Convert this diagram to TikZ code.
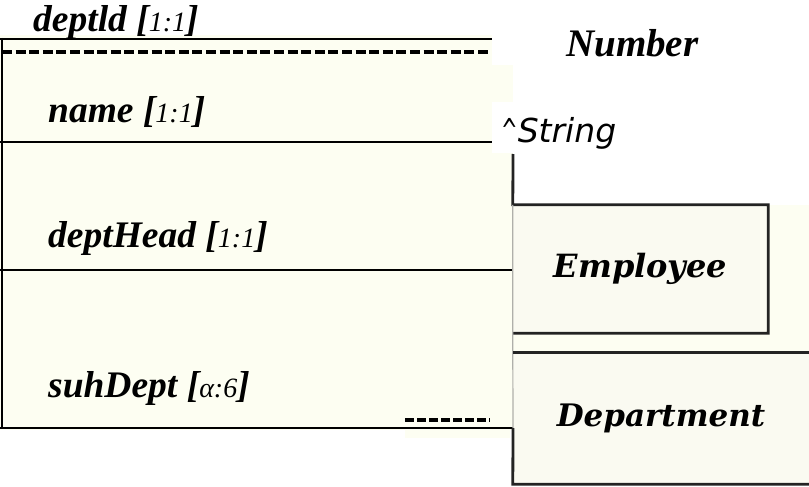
\documentclass[tikz,border=0pt]{standalone}
\usepackage{fontspec}
\setmainfont{Liberation Serif}
\newfontfamily\strfont{DejaVu Sans}
\newfontfamily\boxfont{DejaVu Serif}
\definecolor{cream}{RGB}{253,254,242}
\definecolor{paper}{RGB}{250,250,241}
\definecolor{edge}{RGB}{35,35,35}
\definecolor{faint}{RGB}{175,175,170}
% cardinality part of an attribute label, set lighter and smaller
\newcommand\mult[1]{{\mdseries\fontsize{28}{30}\selectfont #1}}
\begin{document}
\begin{tikzpicture}[x=1pt,y=-1pt,
  rule/.style={line width=2.8pt, black},
  dashrule/.style={line width=4pt, black, dash pattern=on 10pt off 3.6pt},
  attr/.style={anchor=base west, inner sep=0pt,
    font=\fontsize{37.5}{40}\selectfont\bfseries\itshape},
  typelabel/.style={anchor=base west, inner sep=0pt},
  classbox/.style={fill=paper, inner sep=0pt,
    font=\boxfont\bfseries\itshape\selectfont},
  heavy/.style={line width=2.8pt, edge},
  light/.style={line width=1.2pt, faint}]
\useasboundingbox (0,0) rectangle (809,487);
\fill[white] (0,0) rectangle (809,487);

% tinted backgrounds
\fill[cream] (0,35) rectangle (492,65);
\fill[cream] (0,65) rectangle (513,430);
\fill[cream] (405,429) rectangle (510,438);
\fill[cream] (513,205) rectangle (809,353);
\fill[white] (492,102) rectangle (513,153);

% attribute labels
\node[attr] (deptid) at (33,32) {deptld [\mult{1:1}]};
\node[attr] (name) at (48,122) {name [\mult{1:1}]};
\node[attr] (head) at (48,247) {deptHead [\mult{1:1}]};
\node[attr] (sub) at (48,397) {suhDept [\mult{α:6}]};

% type labels
\node[attr, font=\fontsize{39}{42}\selectfont\bfseries\itshape] (num) at (566,57) {Number};
\node[typelabel, font=\strfont\itshape\fontsize{33}{36}\selectfont] (str) at (501,142)
  {\scalebox{0.6}[1]{\textasciicircum}String};

% attribute table
\draw[rule] (0,39) -- (492,39);
\draw[dashrule] (2,52) -- (490,52);
\draw[rule] (0,142) -- (492,142);
\draw[rule] (0,270) -- (513,270);
\draw[rule] (0,428) -- (513,428);
\draw[rule] (2,38) -- (2,429);
\draw[dashrule, dash pattern=on 9pt off 3pt] (405,420) -- (490,420);

% class boxes
\node[classbox, minimum width=255pt, minimum height=128pt] (emp) at (640.5,269)
  {\fontsize{32}{34}\selectfont Employee};
\node[classbox, minimum width=296pt, minimum height=131pt] (dep) at (661,418.5)
  {\fontsize{31}{34}\selectfont Department};

\coordinate (drop) at (513,154);
\draw[heavy] (drop) -- (emp.north west) -- (emp.north east) -- (emp.south east) -- (emp.south west);
\draw[light] (emp.north west) -- (emp.south west) -- (dep.north west) -- (513,428);
\draw[heavy] (dep.north east) -- (dep.north west);
\draw[heavy] (513,428) -- (dep.south west) -- (dep.south east);
\end{tikzpicture}
\end{document}
